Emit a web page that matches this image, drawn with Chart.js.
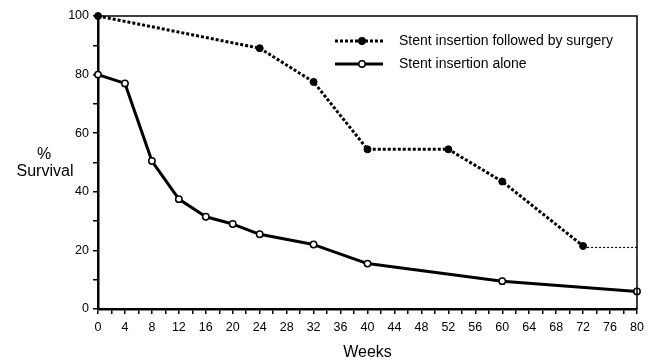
<!DOCTYPE html>
<html>
<head>
<meta charset="utf-8">
<script src="https://cdn.jsdelivr.net/npm/chart.js@4"></script>
<style>
  html, body { margin: 0; padding: 0; background: #fff; }
  #wrap { width: 653px; height: 362px; position: relative; }
</style>
</head>
<body>
<div id="wrap"><canvas id="grafico" width="653" height="362"></canvas></div>
<script>
// data
const weeksSurgery = [0, 24, 32, 40, 52, 60, 72];
const survivalSurgery = [100, 89, 77.5, 54.5, 54.5, 43.5, 21.5];
const weeksTail = [72, 80];
const survivalTail = [21, 21];
const weeksAlone = [0, 4, 8, 12, 16, 20, 24, 32, 40, 60, 80];
const survivalAlone = [80, 77, 50.5, 37.5, 31.5, 29, 25.5, 22, 15.5, 9.5, 6];
const labels = ['Stent insertion followed by surgery', 'Stent insertion alone'];

const FONT = '"Liberation Sans", Arial, Helvetica, sans-serif';
const pares = (xs, ys) => xs.map((x, i) => ({ x: x, y: ys[i] }));

// frame, y title and legend inside the plot
const extras = {
  id: 'extras',
  afterDraw(chart) {
    const { ctx, chartArea: a } = chart;
    ctx.save();
    ctx.strokeStyle = '#000';
    ctx.lineWidth = 1.5;
    ctx.beginPath();
    ctx.moveTo(a.left, a.top);
    ctx.lineTo(a.right, a.top);
    ctx.lineTo(a.right, a.bottom);
    ctx.stroke();

    ctx.fillStyle = '#000';
    ctx.font = '16px ' + FONT;
    ctx.textAlign = 'center';
    ctx.textBaseline = 'middle';
    ctx.fillText('%', 44, 155);
    ctx.fillText('Survival', 45, 172);

    // legend
    const filas = [
      { y: 41, dash: [3, 2], fill: '#000' },
      { y: 64, dash: [], fill: '#fff' }
    ];
    ctx.font = '14px ' + FONT;
    ctx.textAlign = 'left';
    filas.forEach((f, i) => {
      ctx.setLineDash(f.dash);
      ctx.lineWidth = 3;
      ctx.beginPath();
      ctx.moveTo(335, f.y);
      ctx.lineTo(383, f.y);
      ctx.stroke();
      ctx.setLineDash([]);
      ctx.beginPath();
      ctx.arc(362, f.y, 3.2, 0, Math.PI * 2);
      ctx.fillStyle = f.fill;
      ctx.fill();
      ctx.lineWidth = 1.5;
      ctx.stroke();
      ctx.fillStyle = '#000';
      ctx.fillText(labels[i], 399, f.y);
    });
    ctx.restore();
  }
};

new Chart(document.getElementById('grafico'), {
  type: 'line',
  data: {
    datasets: [
      { label: labels[0], data: pares(weeksSurgery, survivalSurgery), borderColor: '#000', borderWidth: 3,
        borderDash: [3, 2], pointRadius: 3.5, pointBackgroundColor: '#000', pointBorderColor: '#000',
        pointBorderWidth: 1, tension: 0, clip: false },
      { label: 'tail', data: pares(weeksTail, survivalTail), borderColor: '#000', borderWidth: 1.2,
        borderDash: [2, 2], pointRadius: 0, tension: 0, clip: false },
      { label: labels[1], data: pares(weeksAlone, survivalAlone), borderColor: '#000', borderWidth: 3,
        pointRadius: 3.2, pointBackgroundColor: '#fff', pointBorderColor: '#000',
        pointBorderWidth: 1.5, tension: 0, borderJoinStyle: 'round', clip: false }
    ]
  },
  options: {
    responsive: false,
    animation: false,
    layout: { padding: { left: 0, right: 16, top: 16, bottom: 0 } },
    plugins: { legend: { display: false }, tooltip: { enabled: false } },
    scales: {
      x: {
        type: 'linear', min: 0, max: 80,
        afterFit: s => { s.height = 53; },
        grid: { drawOnChartArea: false, tickLength: 5, color: '#000', lineWidth: 1.5 },
        border: { color: '#000', width: 2.5 },
        ticks: { stepSize: 2, autoSkip: false, maxRotation: 0, color: '#000', padding: 6,
          font: { family: FONT, size: 12.5 },
          callback: v => (v % 4 === 0 ? v : '') },
        title: { display: true, text: 'Weeks', color: '#000', font: { family: FONT, size: 16 },
          padding: { top: 0, bottom: 0 } }
      },
      y: {
        min: 0, max: 100,
        afterFit: s => { s.width = 98; },
        grid: { drawOnChartArea: false, tickLength: 5, color: '#000', lineWidth: 1.5 },
        border: { color: '#000', width: 2.5 },
        ticks: { stepSize: 10, autoSkip: false, color: '#000', padding: 4,
          font: { family: FONT, size: 12.5 },
          callback: v => (v % 20 === 0 ? v : '') }
      }
    }
  },
  plugins: [extras]
});
</script>
</body>
</html>
